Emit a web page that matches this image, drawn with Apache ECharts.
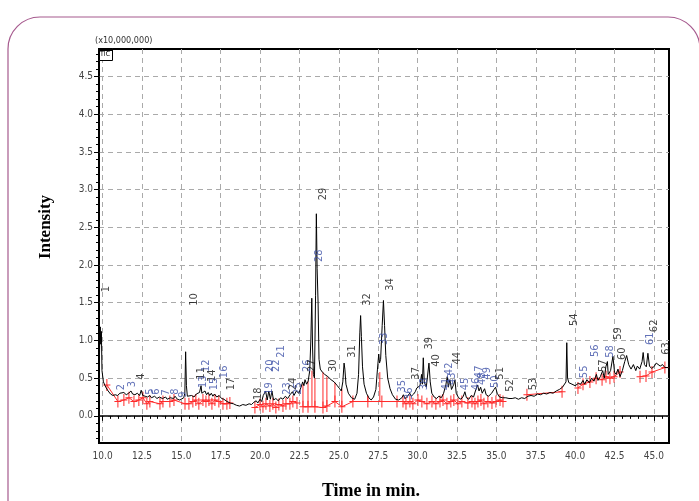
<!DOCTYPE html>
<html>
<head>
<meta charset="utf-8">
<script src="https://cdn.jsdelivr.net/npm/echarts@6/dist/echarts.min.js"></script>
<style>
  html, body { margin: 0; padding: 0; background: #fff; }
  #chart { width: 699px; height: 501px; }
</style>
</head>
<body>
<div id="chart"></div>
<script>
// TIC trace (time in min, intensity x10,000,000)
const traceTime = [
  9.78, 9.82, 9.85, 9.88, 9.92, 9.96, 10.05, 10.2, 10.35, 10.5, 10.65, 10.8, 10.95, 11.1, 11.2, 11.35, 11.5, 11.65, 11.8, 11.9,
  12.05, 12.2, 12.35, 12.45, 12.55, 12.7, 12.85, 13.0, 13.1, 13.3, 13.45, 13.6, 13.8, 14.0, 14.1, 14.3, 14.5, 14.6, 14.75, 14.9,
  15.0, 15.15, 15.22, 15.27, 15.32, 15.38, 15.5, 15.65, 15.8, 15.95, 16.05, 16.15, 16.25, 16.3, 16.4, 16.5, 16.6, 16.7, 16.8, 16.9,
  17.0, 17.1, 17.25, 17.4, 17.55, 17.7, 17.9, 18.1, 18.3, 18.5, 18.7, 18.9, 19.1, 19.3, 19.45, 19.6, 19.75, 19.85, 20.0, 20.1,
  20.2, 20.35, 20.45, 20.55, 20.65, 20.75, 20.85, 21.0, 21.15, 21.3, 21.45, 21.6, 21.75, 21.9, 22.05, 22.15, 22.3, 22.45, 22.6, 22.7,
  22.78, 22.85, 22.95, 23.05, 23.15, 23.22, 23.28, 23.33, 23.38, 23.45, 23.52, 23.57, 23.62, 23.68, 23.74, 23.82, 23.95, 24.1, 24.3, 24.5,
  24.7, 24.9, 25.05, 25.15, 25.25, 25.33, 25.38, 25.45, 25.6, 25.8, 26.0, 26.15, 26.25, 26.33, 26.38, 26.43, 26.5, 26.6, 26.75, 26.9,
  27.05, 27.2, 27.35, 27.45, 27.53, 27.58, 27.65, 27.75, 27.83, 27.9, 27.98, 28.1, 28.25, 28.4, 28.6, 28.8, 29.0, 29.1, 29.2, 29.35,
  29.5, 29.6, 29.75, 29.85, 29.95, 30.05, 30.15, 30.25, 30.3, 30.36, 30.42, 30.55, 30.65, 30.72, 30.8, 30.9, 31.05, 31.2, 31.35, 31.5,
  31.65, 31.8, 31.88, 31.95, 32.05, 32.15, 32.3, 32.37, 32.45, 32.6, 32.75, 32.9, 33.0, 33.1, 33.25, 33.4, 33.55, 33.7, 33.8, 33.9,
  34.0, 34.1, 34.25, 34.35, 34.5, 34.7, 34.85, 34.95, 35.05, 35.2, 35.4, 35.6, 35.8, 36.0, 36.2, 36.4, 36.6, 36.8, 37.0, 37.2,
  37.4, 37.6, 37.8, 38.0, 38.2, 38.4, 38.6, 38.8, 39.0, 39.2, 39.3, 39.42, 39.47, 39.52, 39.6, 39.8, 40.0, 40.2, 40.35, 40.5,
  40.6, 40.75, 40.9, 41.05, 41.2, 41.35, 41.45, 41.6, 41.75, 41.85, 41.95, 42.05, 42.1, 42.25, 42.4, 42.5, 42.6, 42.72, 42.85, 43.0,
  43.15, 43.27, 43.4, 43.55, 43.7, 43.85, 43.95, 44.1, 44.25, 44.32, 44.4, 44.52, 44.62, 44.72, 44.85, 45.0, 45.15, 45.27, 45.4, 45.55,
  45.7, 45.9
];
const traceIntensity = [
  0.55, 1.05, 1.18, 0.95, 1.12, 0.60, 0.45, 0.38, 0.33, 0.29, 0.27, 0.28, 0.27, 0.30, 0.28, 0.31, 0.28, 0.30, 0.33, 0.29,
  0.28, 0.30, 0.27, 0.34, 0.27, 0.26, 0.25, 0.27, 0.24, 0.26, 0.23, 0.25, 0.23, 0.25, 0.22, 0.24, 0.23, 0.26, 0.22, 0.21,
  0.23, 0.24, 0.30, 0.85, 0.40, 0.26, 0.24, 0.27, 0.25, 0.29, 0.27, 0.31, 0.40, 0.30, 0.29, 0.33, 0.28, 0.31, 0.27, 0.30,
  0.26, 0.29, 0.25, 0.27, 0.23, 0.22, 0.19, 0.17, 0.16, 0.14, 0.13, 0.15, 0.14, 0.16, 0.15, 0.18, 0.20, 0.17, 0.22, 0.19,
  0.27, 0.33, 0.21, 0.33, 0.22, 0.33, 0.21, 0.23, 0.20, 0.24, 0.22, 0.26, 0.23, 0.28, 0.32, 0.27, 0.33, 0.30, 0.38, 0.45,
  0.40, 0.48, 0.42, 0.46, 0.60, 1.00, 1.56, 0.90, 0.55, 0.50, 1.60, 2.68, 1.95, 1.50, 0.75, 0.62, 0.58, 0.55, 0.52, 0.48,
  0.45, 0.40, 0.36, 0.33, 0.45, 0.70, 0.62, 0.42, 0.30, 0.24, 0.22, 0.30, 0.55, 1.10, 1.33, 1.05, 0.65, 0.42, 0.30, 0.24,
  0.21, 0.25, 0.35, 0.62, 0.82, 0.70, 0.75, 1.20, 1.53, 1.20, 0.80, 0.50, 0.36, 0.28, 0.22, 0.21, 0.24, 0.28, 0.23, 0.26,
  0.30, 0.26, 0.29, 0.32, 0.37, 0.35, 0.40, 0.55, 0.42, 0.77, 0.45, 0.38, 0.40, 0.70, 0.45, 0.30, 0.25, 0.23, 0.26, 0.24,
  0.30, 0.42, 0.52, 0.38, 0.48, 0.35, 0.42, 0.48, 0.30, 0.24, 0.22, 0.26, 0.32, 0.24, 0.22, 0.27, 0.25, 0.35, 0.41, 0.33,
  0.38, 0.30, 0.36, 0.28, 0.26, 0.30, 0.35, 0.38, 0.30, 0.25, 0.24, 0.24, 0.23, 0.23, 0.24, 0.22, 0.24, 0.23, 0.26, 0.27,
  0.26, 0.29, 0.28, 0.30, 0.29, 0.31, 0.30, 0.33, 0.35, 0.38, 0.36, 0.45, 0.97, 0.50, 0.44, 0.42, 0.40, 0.43, 0.42, 0.47,
  0.42, 0.48, 0.44, 0.50, 0.46, 0.55, 0.47, 0.52, 0.60, 0.50, 0.65, 0.72, 0.55, 0.60, 0.79, 0.58, 0.55, 0.62, 0.52, 0.60,
  0.72, 0.80, 0.68, 0.62, 0.68, 0.60, 0.66, 0.62, 0.72, 0.84, 0.68, 0.65, 0.83, 0.66, 0.63, 0.65, 0.70, 0.72, 0.66, 0.68,
  0.64, 0.64
];

// integration marks (red crosses on the baseline), groups are joined by a baseline
const crossGroups = [
  [[10.27, 0.41], [10.97, 0.19], [11.35, 0.21], [11.67, 0.24], [11.99, 0.19], [12.30, 0.21], [12.56, 0.24], [12.81, 0.16],
   [13.00, 0.19], [13.64, 0.16], [13.83, 0.19], [14.27, 0.19], [14.53, 0.21], [15.23, 0.16], [15.48, 0.16], [15.73, 0.19],
   [15.92, 0.21], [16.11, 0.16], [16.37, 0.21], [16.56, 0.19], [16.75, 0.21], [16.94, 0.16], [17.13, 0.21], [17.38, 0.19],
   [17.64, 0.16], [17.89, 0.16], [18.08, 0.17]],
  [[19.67, 0.11], [19.99, 0.15], [20.18, 0.12], [20.37, 0.16], [20.62, 0.13], [20.81, 0.16], [21.00, 0.11], [21.19, 0.15],
   [21.45, 0.13], [21.64, 0.16], [21.89, 0.16], [22.08, 0.19], [22.34, 0.17]],
  [[22.72, 0.12], [23.04, 0.12], [23.48, 0.12], [23.99, 0.11], [24.24, 0.13], [24.75, 0.19], [25.19, 0.12], [25.89, 0.19],
   [26.84, 0.19], [27.73, 0.19], [28.69, 0.19]],
  [[29.07, 0.19], [29.26, 0.16], [29.51, 0.19], [29.70, 0.16], [30.02, 0.21], [30.27, 0.19], [30.59, 0.16], [30.91, 0.19],
   [31.16, 0.16], [31.42, 0.19], [31.61, 0.21], [31.86, 0.16], [32.11, 0.19], [32.30, 0.21], [32.56, 0.16], [32.81, 0.19],
   [33.19, 0.17], [33.45, 0.19], [33.64, 0.16], [33.83, 0.19], [34.02, 0.21], [34.21, 0.16], [34.46, 0.19], [34.72, 0.17],
   [34.97, 0.19], [35.23, 0.21], [35.42, 0.19]],
  [[36.94, 0.28], [39.17, 0.32]],
  [[40.18, 0.37], [40.50, 0.42], [40.94, 0.45], [41.33, 0.50], [41.71, 0.48], [41.96, 0.52], [42.21, 0.50], [42.47, 0.52],
   [42.85, 0.58]],
  [[44.12, 0.52], [44.50, 0.53], [44.88, 0.58], [45.70, 0.64]]
];

// peak cut lines from baseline up to the trace
const dropTime = [22.72, 23.04, 23.29, 23.48, 23.99, 24.24, 24.75, 25.19, 25.89, 26.84, 27.60];
const dropBase = [0.12, 0.12, 0.12, 0.12, 0.11, 0.13, 0.19, 0.12, 0.19, 0.19, 0.19];
const dropTop = [0.42, 0.46, 0.60, 0.50, 0.58, 0.52, 0.44, 0.36, 0.22, 0.26, 0.58];

// peak numbers and where they are written
const peakNo = [
  1, 2, 3, 4, 5, 6, 7, 8, 9, 10, 11, 12, 13, 14, 15, 16, 17, 18, 19, 20, 21, 22, 23, 24, 25, 26, 27, 28, 29, 30, 31, 32,
  33, 34, 35, 36, 37, 38, 39, 40, 41, 42, 43, 44, 45, 46, 47, 48, 49, 50, 51, 52, 53, 54, 55, 56, 57, 58, 59, 60, 61, 62, 63
];
const peakTime = [
  10.21, 11.16, 11.86, 12.43, 13.00, 13.38, 14.02, 14.59, 15.10, 15.80, 16.24, 16.56, 16.37, 16.94, 17.07, 17.70, 18.15, 19.86,
  20.56, 20.62, 21.32, 21.00, 21.70, 22.08, 22.40, 22.97, 23.29, 23.73, 23.99, 24.62, 25.83, 26.78, 27.86, 28.24, 29.00, 29.45,
  29.89, 30.40, 30.72, 31.16, 31.80, 31.99, 32.18, 32.50, 33.00, 33.70, 33.89, 34.08, 34.40, 34.91, 35.23, 35.86, 37.32, 39.92,
  40.55, 41.25, 41.76, 42.21, 42.72, 42.97, 44.75, 45.00, 45.76
];
const peakHeight = [
  1.64, 0.34, 0.38, 0.48, 0.28, 0.28, 0.27, 0.28, 0.24, 1.46, 0.48, 0.58, 0.37, 0.45, 0.34, 0.50, 0.34, 0.21,
  0.28, 0.58, 0.77, 0.58, 0.28, 0.34, 0.28, 0.58, 0.58, 2.04, 2.86, 0.58, 0.77, 1.46, 0.94, 1.66, 0.31, 0.21,
  0.48, 0.34, 0.88, 0.65, 0.34, 0.54, 0.41, 0.68, 0.34, 0.34, 0.50, 0.41, 0.48, 0.37, 0.48, 0.32, 0.34, 1.19,
  0.50, 0.78, 0.58, 0.77, 1.01, 0.74, 0.94, 1.11, 0.81
];
const bluePeaks = [2, 3, 5, 6, 7, 8, 9, 12, 13, 15, 16, 19, 20, 21, 22, 23, 25, 26, 28, 33, 35, 36, 38, 41, 42, 43, 45, 46, 47, 48, 49, 50, 55, 56, 58, 61];

const xMajor = [10, 12.5, 15, 17.5, 20, 22.5, 25, 27.5, 30, 32.5, 35, 37.5, 40, 42.5, 45];
const yMajor = [0, 0.5, 1, 1.5, 2, 2.5, 3, 3.5, 4, 4.5];

const narrow = "'Liberation Sans Narrow', 'Arial Narrow', 'DejaVu Sans Condensed', sans-serif";
const serif = "'Liberation Serif', 'DejaVu Serif', serif";

let xMinor = [];
for (let v = 10; v <= 45.5; v += 0.5) xMinor.push(v);
let yMinor = [];
for (let k = -3; k <= 48; k++) yMinor.push(k / 10);

let crossData = [];
crossGroups.forEach(g => {
  g.forEach(p => crossData.push(p));
  crossData.push([g[g.length - 1][0] + 0.01, '-']);
});
let dropData = [];
dropTime.forEach((t, i) => {
  dropData.push([t, dropBase[i]], [t, dropTop[i]], [t + 0.001, '-']);
});

let chart = echarts.init(document.getElementById('chart'));
chart.setOption({
  animation: false,
  grid: { left: 99, right: 30, top: 49, bottom: 58, show: true, borderColor: '#000', borderWidth: 2 },
  xAxis: [
    {
      type: 'value', min: 9.77, max: 45.96, position: 'bottom',
      axisLine: { lineStyle: { color: '#000', width: 1.5 } },
      axisTick: { customValues: xMajor, length: 5, lineStyle: { color: '#000' } },
      axisLabel: { customValues: xMajor, formatter: v => v.toFixed(1), color: '#444', fontSize: 10, fontFamily: narrow, margin: 8 },
      splitLine: { show: true, lineStyle: { color: '#aaa', type: [5, 4] } }
    },
    {
      type: 'value', min: 9.77, max: 45.96, position: 'bottom',
      axisLine: { show: false },
      axisTick: { customValues: xMinor, length: 3, lineStyle: { color: '#000' } },
      axisLabel: { show: false },
      splitLine: { show: false }
    }
  ],
  yAxis: [
    {
      type: 'value', min: -0.36, max: 4.865, position: 'left',
      axisLine: { lineStyle: { color: '#000', width: 1.5 } },
      axisTick: { customValues: yMajor, length: 5, lineStyle: { color: '#000' } },
      axisLabel: { customValues: yMajor, formatter: v => v.toFixed(1), color: '#444', fontSize: 10, fontFamily: narrow, margin: 6 },
      splitLine: { show: true, lineStyle: { color: '#aaa', type: [5, 4] } }
    },
    {
      type: 'value', min: -0.36, max: 4.865, position: 'left',
      axisLine: { show: false },
      axisTick: { customValues: yMinor, length: 3, lineStyle: { color: '#000' } },
      axisLabel: { show: false },
      splitLine: { show: false }
    }
  ],
  series: [
    {
      // 基线和积分标记
      type: 'line', data: crossData, z: 2,
      symbol: 'path://M3,0h1v12h-1z M0,5.5h7v1h-7z', symbolSize: [7, 12],
      itemStyle: { color: '#ff2a2a' },
      lineStyle: { color: '#ff2a2a', width: 1 }
    },
    {
      type: 'line', data: dropData, z: 2, symbol: 'none',
      lineStyle: { color: '#ff2a2a', width: 1 }
    },
    {
      // TIC 曲线
      type: 'line', data: traceTime.map((t, i) => [t, traceIntensity[i]]), z: 3,
      symbol: 'none',
      lineStyle: { color: '#000', width: 1 }
    },
    {
      // 峰编号
      type: 'scatter', z: 4, symbolSize: 1,
      itemStyle: { color: 'rgba(0,0,0,0)' },
      data: peakNo.map((n, i) => ({
        value: [peakTime[i], peakHeight[i]], name: String(n),
        label: { color: bluePeaks.includes(n) ? '#3b4fa6' : '#111' }
      })),
      label: {
        show: true, position: 'inside', formatter: p => p.name, rotate: 90,
        align: 'left', verticalAlign: 'middle', fontSize: 11, fontFamily: narrow
      }
    }
  ],
  graphic: [
    {
      type: 'rect', silent: true, z: -10,
      shape: { x: 8, y: 17, width: 692, height: 540, r: 32 },
      style: { fill: 'none', stroke: '#a65a8e', lineWidth: 1.2 }
    },
    {
      type: 'text', left: 95, top: 36,
      style: { text: '(x10,000,000)', fontSize: 9, fontFamily: narrow, fill: '#333' }
    },
    {
      type: 'rect', left: 99, top: 48, z: 10,
      shape: { width: 13, height: 12 },
      style: { fill: '#fff', stroke: '#000', lineWidth: 1 }
    },
    {
      type: 'rect', left: 99, top: 48, z: 11,
      shape: { width: 13, height: 3 },
      style: { fill: '#000' }
    },
    {
      type: 'text', left: 100, top: 51, z: 12,
      style: { text: 'TIC', fontSize: 7, fontFamily: narrow, fill: '#000' }
    },
    {
      type: 'text', x: 46, y: 227, rotation: Math.PI / 2,
      style: { text: 'Intensity', fontSize: 17, fontWeight: 'bold', fontFamily: serif, fill: '#000', align: 'center', verticalAlign: 'middle' }
    },
    {
      type: 'text', x: 371, y: 491,
      style: { text: 'Time in min.', fontSize: 18, fontWeight: 'bold', fontFamily: serif, fill: '#000', align: 'center', verticalAlign: 'middle' }
    }
  ]
});
</script>
</body>
</html>
